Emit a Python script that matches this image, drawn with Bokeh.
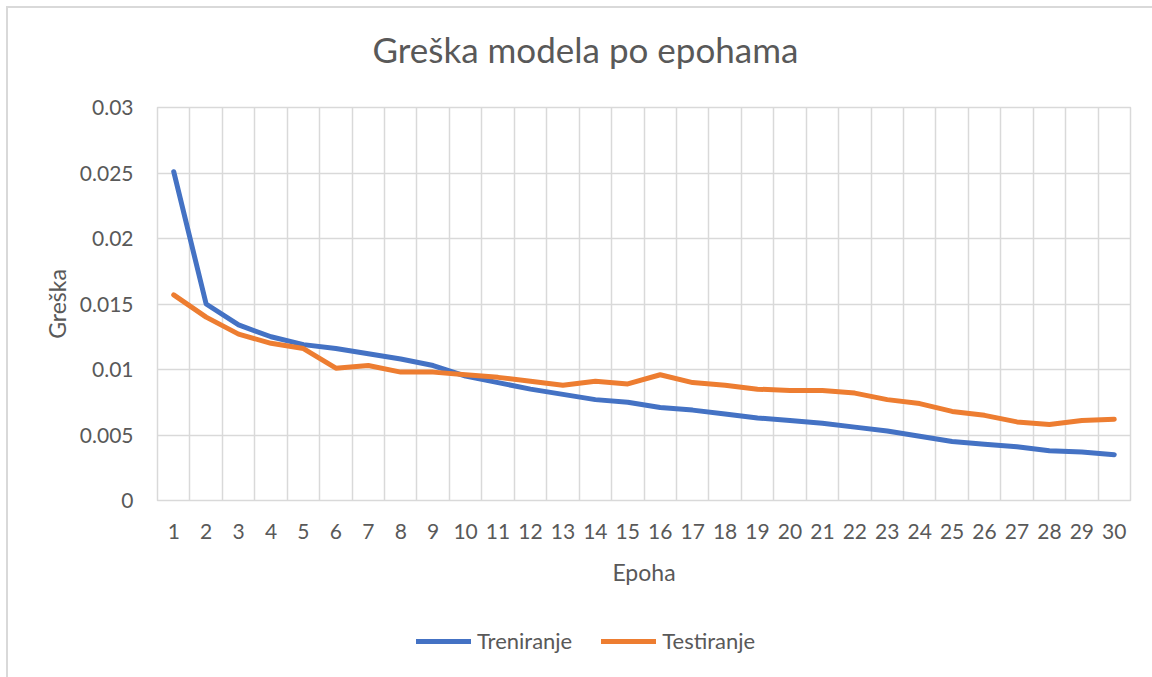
from bokeh.plotting import figure
from bokeh.models import FixedTicker, Legend, LegendItem, ColumnDataSource, Range1d
from bokeh.layouts import column
from bokeh.embed import file_html
from bokeh.resources import INLINE

# ---- data ----
epochs = list(range(1, 31))
treniranje = [0.0251, 0.0150, 0.0134, 0.0125, 0.0119, 0.0116, 0.0112, 0.0108, 0.0103, 0.0095,
              0.0090, 0.0085, 0.0081, 0.0077, 0.0075, 0.0071, 0.0069, 0.0066, 0.0063, 0.0061,
              0.0059, 0.0056, 0.0053, 0.0049, 0.0045, 0.0043, 0.0041, 0.0038, 0.0037, 0.0035]
testiranje = [0.0157, 0.0140, 0.0127, 0.0120, 0.0116, 0.0101, 0.0103, 0.0098, 0.0098, 0.0096,
              0.0094, 0.0091, 0.0088, 0.0091, 0.0089, 0.0096, 0.0090, 0.0088, 0.0085, 0.0084,
              0.0084, 0.0082, 0.0077, 0.0074, 0.0068, 0.0065, 0.0060, 0.0058, 0.0061, 0.0062]
y_ticks = [0, 0.005, 0.01, 0.015, 0.02, 0.025, 0.03]
y_tick_labels = ["0", "0.005", "0.01", "0.015", "0.02", "0.025", "0.03"]
title_text = "Greška modela po epohama"
x_label = "Epoha"
y_label = "Greška"
series_names = ["Treniranje", "Testiranje"]
series_colors = ["#4472C4", "#ED7D31"]

FONT = "Lato"
TXT = "#595959"
GRID = "#d9d9d9"
LEFT, RIGHT = 149, 22

src = ColumnDataSource(dict(x=epochs, tr=treniranje, te=testiranje))


def strip(height, y_range):
    f = figure(width=1144, height=height, x_range=Range1d(0.5, 30.5), y_range=y_range,
               output_backend="svg", toolbar_location=None,
               min_border_left=LEFT, min_border_right=RIGHT, min_border_top=0, min_border_bottom=0,
               x_axis_type=None, y_axis_type=None)
    f.outline_line_color = None
    f.grid.visible = False
    f.background_fill_color = "white"
    f.border_fill_color = "white"
    return f


# ---- title strip ----
pt = strip(84, Range1d(0, 1))
pt.title.text = title_text
pt.title.text_font = FONT
pt.title.text_font_size = "35px"
pt.title.text_font_style = "normal"
pt.title.text_color = TXT
pt.title.align = "left"
pt.title.offset = 215
pt.title.standoff = 34

# ---- main chart ----
p = figure(width=1144, height=508, x_range=(0.5, 30.5), y_range=(0, 0.03),
           output_backend="svg", toolbar_location=None,
           min_border_left=LEFT, min_border_right=RIGHT, min_border_top=15, min_border_bottom=100)
p.title.visible = False
p.outline_line_color = GRID
p.outline_line_width = 1.5
p.background_fill_color = "white"
p.border_fill_color = "white"

for ax in (p.xaxis[0], p.yaxis[0]):
    ax.axis_line_color = None
    ax.major_tick_line_color = None
    ax.minor_tick_line_color = None
    ax.major_label_text_font = FONT
    ax.major_label_text_font_size = "21px"
    ax.major_label_text_color = TXT
    ax.axis_label_text_font = FONT
    ax.axis_label_text_font_size = "23px"
    ax.axis_label_text_font_style = "normal"
    ax.axis_label_text_color = TXT

p.xaxis.ticker = FixedTicker(ticks=epochs)
p.xaxis.axis_label = x_label
p.xaxis.major_label_standoff = 17
p.xaxis.axis_label_standoff = 16

p.yaxis.ticker = FixedTicker(ticks=y_ticks)
p.yaxis.major_label_overrides = {t: l for t, l in zip(y_ticks, y_tick_labels)}
p.yaxis.axis_label = y_label
p.yaxis.major_label_standoff = 18
p.yaxis.axis_label_standoff = 6

# grids: vertical lines between categories
p.xgrid.ticker = FixedTicker(ticks=[e - 0.5 for e in epochs] + [epochs[-1] + 0.5])
p.ygrid.ticker = FixedTicker(ticks=y_ticks)
for g in (p.xgrid[0], p.ygrid[0]):
    g.grid_line_color = GRID
    g.grid_line_width = 1.5

r1 = p.line("x", "tr", source=src, line_color=series_colors[0], line_width=5,
            line_cap="round", line_join="round")
r2 = p.line("x", "te", source=src, line_color=series_colors[1], line_width=5,
            line_cap="round", line_join="round")

# ---- legend strip (its series lie outside its visible y range) ----
pl = strip(77, Range1d(1, 2))
l1 = pl.line("x", "tr", source=src, line_color=series_colors[0], line_width=5, line_cap="round")
l2 = pl.line("x", "te", source=src, line_color=series_colors[1], line_width=5, line_cap="round")
legend = Legend(items=[LegendItem(label=series_names[0], renderers=[l1]),
                       LegendItem(label=series_names[1], renderers=[l2])],
                orientation="horizontal", location=(259, 23),
                glyph_width=55, glyph_height=20, label_standoff=6, spacing=29,
                padding=0, margin=0, border_line_color=None, background_fill_alpha=0,
                label_text_font=FONT, label_text_font_size="22px", label_text_color=TXT)
pl.add_layout(legend)

layout = column(pt, p, pl, spacing=0,
                styles={"margin-left": "6px", "margin-top": "6px",
                        "border-left": "2px solid #d9d9d9", "border-top": "2px solid #d9d9d9"})
open("out.html", "w").write(file_html(layout, INLINE))
